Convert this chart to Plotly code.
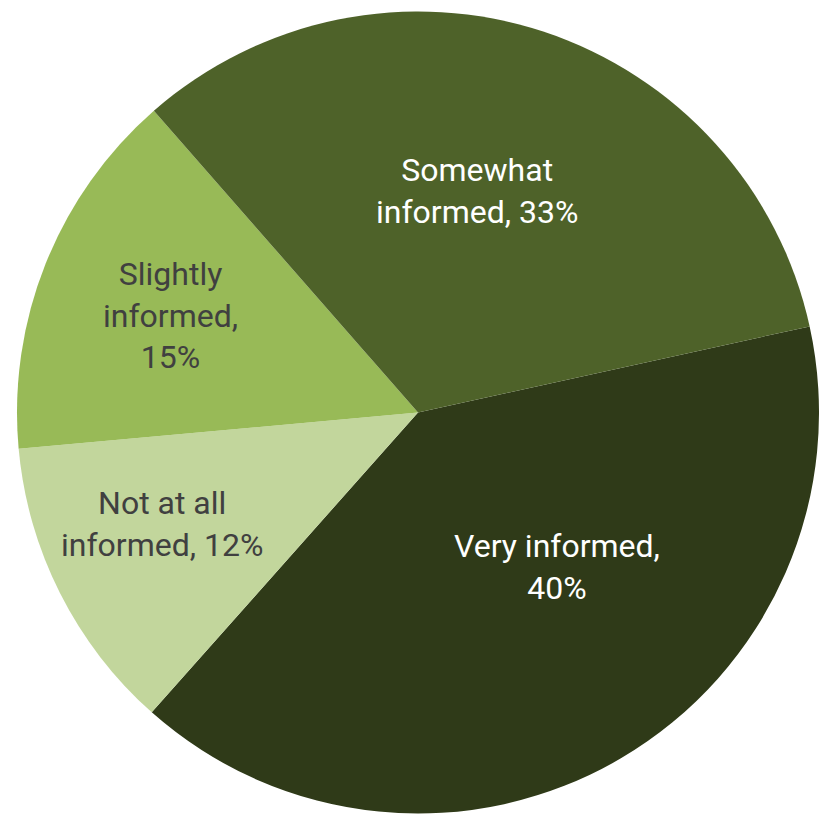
import plotly.graph_objects as go

# Survey: how informed respondents feel
categories = ["Very informed", "Not at all informed", "Slightly informed", "Somewhat informed"]
shares = [40, 12, 15, 33]
label_lines = [["Very informed,", "{p}%"],
               ["Not at all", "informed, {p}%"],
               ["Slightly", "informed,", "{p}%"],
               ["Somewhat", "informed, {p}%"]]
colors = ["#2f3a18", "#c2d69c", "#98ba57", "#4e6229"]
text_colors = ["#ffffff", "#404040", "#404040", "#ffffff"]

W, H = 819, 817

# Label anchor points in pixels (x from left, y from top), one per slice
label_pos_px = [(557, 567), (162, 524), (170, 315), (477, 191)]

fig = go.Figure(go.Pie(
    labels=categories,
    values=shares,
    textinfo="none",
    marker=dict(colors=colors, line=dict(width=0)),
    sort=False,
    direction="clockwise",
    rotation=77.6,
    showlegend=False,
    hoverinfo="label+percent",
    domain=dict(x=[17 / W, 1], y=[0, 1 - 8 / H]),
))

for lines, val, col, (px, py) in zip(label_lines, shares, text_colors, label_pos_px):
    fig.add_annotation(
        text="<br>".join(s.format(p=val) for s in lines),
        x=px / W, y=1 - py / H,
        xref="paper", yref="paper",
        xanchor="center", yanchor="middle",
        showarrow=False,
        align="center",
        font=dict(family="Roboto", size=32, color=col),
    )

fig.update_layout(
    width=W,
    height=H,
    margin=dict(l=0, r=0, t=0, b=0),
    paper_bgcolor="white",
    plot_bgcolor="white",
)

fig.write_html("out.html")
